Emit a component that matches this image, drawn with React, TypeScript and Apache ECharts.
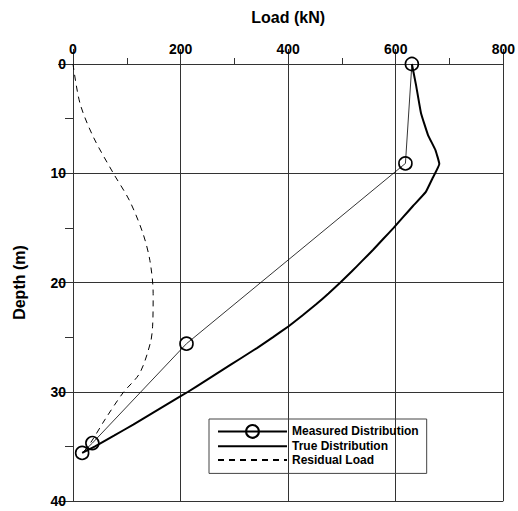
import React, { useEffect, useRef } from "react";
import * as echarts from "echarts";

const xTicks = [0, 200, 400, 600, 800];
const yTicks = [0, 10, 20, 30, 40];

const measuredLoad = [630, 618, 211, 36, 17];
const measuredDepth = [0, 9.1, 25.6, 34.7, 35.6];

const trueLoad = [630, 638, 647, 660, 674, 681, 668, 656, 632, 614, 596, 577, 558, 538, 518, 497, 475, 452, 427, 401, 372, 342, 310, 278, 246, 214, 180, 146, 112, 77, 41, 17];
const trueDepth = [0, 2, 4.5, 6.5, 7.9, 9.15, 10.5, 11.7, 13, 14, 15, 16, 17, 18, 19, 20, 21, 22, 23, 24, 25, 26, 27, 28, 29, 30, 31, 32, 33, 34, 35, 35.6];

const residualLoad = [0, 13, 38, 75, 105, 130, 143, 149, 148, 144, 124, 93, 60, 35, 20];
const residualDepth = [0, 3.6, 6.7, 10, 12.5, 15.5, 18, 21, 24, 25.5, 28.3, 30.1, 32.5, 34.5, 35.5];

const seriesNames = ["Measured Distribution", "True Distribution", "Residual Load"];

const zip = (a: number[], b: number[]) => a.map((v, i) => [v, b[i]]);

export default function App() {
  const ref = useRef<HTMLDivElement>(null);
  useEffect(() => {
    if (!ref.current) return;
    const chart = echarts.init(ref.current, null, { renderer: "svg" });
    const font = "'Liberation Sans', Arial, sans-serif";
    const gridColor = "#333";
    chart.setOption({
      animation: false,
      backgroundColor: "#fff",
      textStyle: { fontFamily: font },
      grid: { left: 73, right: 14, top: 64, bottom: 10, containLabel: false },
      legend: {
        orient: "vertical",
        left: 209,
        top: 419,
        padding: [5, 8, 7, 8],
        itemGap: 1,
        itemWidth: 69,
        itemHeight: 16,
        borderColor: "#444",
        borderWidth: 1,
        data: seriesNames,
        textStyle: { fontSize: 12, fontWeight: "bold", color: "#000", fontFamily: font },
      },
      xAxis: {
        type: "value",
        position: "top",
        min: xTicks[0],
        max: xTicks[xTicks.length - 1],
        interval: 200,
        name: "Load (kN)",
        nameLocation: "middle",
        nameGap: 39,
        nameTextStyle: { fontSize: 16, fontWeight: "bold", color: "#000", fontFamily: font },
        axisLine: { show: true, onZero: false, lineStyle: { color: gridColor, width: 1 } },
        axisTick: { show: true, length: 15, lineStyle: { color: gridColor, width: 1 } },
        minorTick: { show: true, splitNumber: 2, length: 6, lineStyle: { color: gridColor, width: 1 } },
        splitLine: { show: true, lineStyle: { color: gridColor, width: 1 } },
        axisLabel: { fontSize: 14, fontWeight: "bold", color: "#000", margin: 8, fontFamily: font },
      },
      yAxis: {
        type: "value",
        inverse: true,
        min: yTicks[0],
        max: yTicks[yTicks.length - 1],
        interval: 10,
        name: "Depth (m)",
        nameLocation: "middle",
        nameGap: 46,
        nameTextStyle: { fontSize: 16, fontWeight: "bold", color: "#000", fontFamily: font },
        axisLine: { show: true, onZero: false, lineStyle: { color: gridColor, width: 1 } },
        axisTick: { show: true, length: 15, lineStyle: { color: gridColor, width: 1 } },
        minorTick: { show: true, splitNumber: 2, length: 8, lineStyle: { color: gridColor, width: 1 } },
        splitLine: { show: true, lineStyle: { color: gridColor, width: 1 } },
        axisLabel: { fontSize: 14, fontWeight: "bold", color: "#000", margin: 7, fontFamily: font },
      },
      series: [
        {
          name: seriesNames[0],
          type: "line",
          data: zip(measuredLoad, measuredDepth),
          symbol: "circle",
          symbolSize: 13,
          lineStyle: { color: "#000", width: 0.8 },
          itemStyle: { color: "rgba(255,255,255,0)", borderColor: "#000", borderWidth: 1.6 },
          z: 4,
        },
        {
          name: seriesNames[1],
          type: "line",
          data: zip(trueLoad, trueDepth),
          symbol: "none",
          smooth: 0.1,
          lineStyle: { color: "#000", width: 2 },
          itemStyle: { color: "rgba(0,0,0,0)", borderWidth: 0 },
          z: 3,
        },
        {
          name: seriesNames[2],
          type: "line",
          data: zip(residualLoad, residualDepth),
          symbol: "none",
          smooth: 0.3,
          lineStyle: { color: "#000", width: 1, type: [6, 5] },
          itemStyle: { color: "rgba(0,0,0,0)", borderWidth: 0 },
          z: 3,
        },
      ],
    });
    return () => chart.dispose();
  }, []);
  return (
    <div
      ref={ref}
      style={{ position: "fixed", left: 0, top: 0, width: 518, height: 511, background: "#fff" }}
    />
  );
}
